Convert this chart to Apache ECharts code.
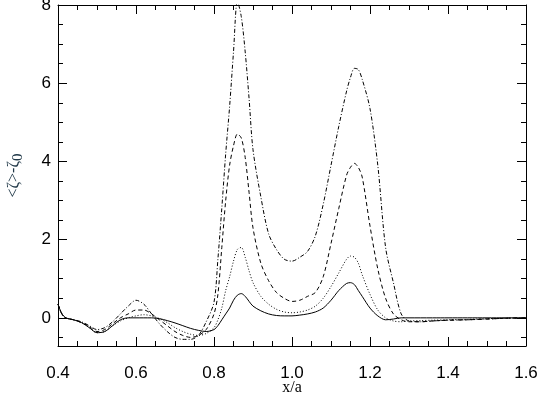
<!DOCTYPE html>
<html>
<head>
<meta charset="utf-8">
<script src="https://cdn.jsdelivr.net/npm/echarts@6/dist/echarts.min.js"></script>
<style>
  html,body{margin:0;padding:0;background:#fff;}
  #chart{width:538px;height:396px;}
</style>
</head>
<body>
<div id="chart"></div>
<script>
/* x/a positions shared by all curves */
const xs = [0.40,0.41,0.42,0.44,0.46,0.48,0.50,0.52,0.54,0.56,0.58,0.60,0.62,0.64,0.66,0.68,0.70,0.72,0.74,0.76,0.78,
            0.80,0.81,0.82,0.83,0.84,0.85,0.86,0.87,0.88,0.89,0.90,0.92,0.94,0.96,0.98,1.00,1.02,1.04,1.06,1.08,1.10,
            1.12,1.14,1.15,1.16,1.17,1.18,1.20,1.22,1.24,1.26,1.28,1.30,1.33,1.36,1.40,1.45,1.50,1.55,1.60];

// highest curve (dash dot)
const zetaA = [0.35,0.1,0.0,-0.05,-0.1,-0.2,-0.3,-0.25,-0.1,0.1,0.3,0.45,0.35,0.1,-0.15,-0.35,-0.5,-0.55,-0.55,-0.45,-0.1,
               0.4,1.5,2.8,4.2,5.4,6.8,8.1,7.7,6.8,5.6,4.3,3.1,2.15,1.75,1.5,1.45,1.55,1.7,2.1,2.9,3.9,
               4.9,5.8,6.15,6.38,6.35,6.1,5.35,3.9,1.8,0.9,0.1,-0.08,-0.1,-0.08,-0.06,-0.05,-0.03,-0.01,0.0];
// second curve (dashed)
const zetaB = [0.35,0.1,0.0,-0.05,-0.12,-0.22,-0.35,-0.3,-0.15,0.0,0.1,0.2,0.2,0.1,-0.05,-0.2,-0.35,-0.45,-0.5,-0.45,-0.3,
               0.1,0.6,1.8,3.0,3.9,4.4,4.7,4.6,4.1,3.2,2.3,1.4,0.95,0.65,0.5,0.42,0.45,0.55,0.65,1.05,1.9,
               2.8,3.65,3.85,3.95,3.85,3.6,2.35,1.25,0.5,0.1,-0.05,-0.1,-0.1,-0.08,-0.06,-0.05,-0.03,-0.01,0.0];
// third curve (dotted)
const zetaC = [0.35,0.1,0.0,-0.05,-0.12,-0.25,-0.38,-0.35,-0.2,-0.08,0.0,0.05,0.08,0.05,-0.02,-0.12,-0.25,-0.35,-0.42,-0.45,-0.4,
               -0.25,-0.05,0.25,0.7,1.05,1.45,1.75,1.8,1.55,1.2,0.9,0.55,0.35,0.22,0.15,0.13,0.15,0.2,0.3,0.5,0.8,
               1.15,1.5,1.58,1.55,1.4,1.1,0.6,0.2,0.0,-0.08,-0.1,-0.08,-0.07,-0.06,-0.05,-0.04,-0.02,-0.01,0.0];
// lowest curve (solid)
const zetaD = [0.35,0.1,0.0,-0.05,-0.12,-0.25,-0.38,-0.35,-0.2,-0.05,0.0,0.0,0.0,0.0,-0.02,-0.07,-0.13,-0.2,-0.27,-0.32,-0.35,
               -0.3,-0.2,-0.05,0.1,0.25,0.45,0.58,0.62,0.55,0.42,0.3,0.18,0.1,0.06,0.05,0.05,0.07,0.1,0.15,0.25,0.45,
               0.7,0.88,0.9,0.85,0.7,0.55,0.25,0.05,-0.05,-0.03,0.0,0.0,0.0,0.0,0.0,0.0,0.0,0.0,0.0];

const yMajor = [0,2,4,6,8];
const yMinor = [-0.5,0.5,1,1.5,2.5,3,3.5,4.5,5,5.5,6.5,7,7.5];
const yMin = -0.72, yMax = 8;

const chart = echarts.init(document.getElementById("chart"));

const pair = arr => xs.map((x,i)=>[x,arr[i]]);

const lineOf = (arr,type)=>({
	type:"line",
	data:pair(arr),
	symbol:"none",
	smooth:0.3,
	lineStyle:{color:"#000",width:1,type:type},
	z:3
});

const xCommon = {
	type:"value",min:0.4,max:1.6,interval:0.2,
	axisTick:{show:true,inside:true,length:9,lineStyle:{color:"#000",width:1}},
	minorTick:{show:true,splitNumber:4,length:5,lineStyle:{color:"#000",width:1}},
	splitLine:{show:false}
};

const yBase = {type:"value",min:yMin,max:yMax,splitLine:{show:false}};

chart.setOption({
	animation:false,
	backgroundColor:"#fff",
	// wide outer bounds so the frame keeps its place
	grid:{left:58,right:12,top:5,bottom:50,containLabel:false,
		outerBounds:{left:-40,top:-40,right:-40,bottom:-40}},
	xAxis:[
		// bottom x axis sits on the zero of a hidden y axis whose zero is the frame bottom
		Object.assign({},xCommon,{
			position:"bottom",
			axisLine:{show:true,onZero:true,onZeroAxisIndex:4,lineStyle:{color:"#000",width:1}},
			name:"x/a",nameLocation:"middle",nameGap:34,nameMoveOverlap:false,
			nameTextStyle:{fontFamily:"Liberation Serif",fontSize:16,color:"#000"},
			axisLabel:{fontFamily:"Liberation Sans",fontSize:17,color:"#000",margin:19,
				formatter:v=>v.toFixed(1)}
		}),
		// top x axis sits on the zero of a hidden y axis whose zero is the frame top
		Object.assign({},xCommon,{
			position:"top",
			axisLine:{show:true,onZero:true,onZeroAxisIndex:5,lineStyle:{color:"#000",width:1}},
			axisLabel:{show:false}
		})
	],
	yAxis:[
		Object.assign({},yBase,{
			position:"left",
			name:"<ζ>-ζ{s|0}",nameLocation:"middle",nameGap:36,nameRotate:90,
			nameTextStyle:{fontFamily:"Liberation Serif",fontSize:16,color:"#203848",
				rich:{s:{fontFamily:"Liberation Serif",fontSize:15,color:"#203848",verticalAlign:"bottom",padding:[0,0,-4,0]}}},
			axisLine:{show:true,onZero:false,lineStyle:{color:"#000"}},
			axisTick:{show:true,inside:true,length:9,customValues:yMajor,lineStyle:{color:"#000"}},
			axisLabel:{customValues:yMajor,fontFamily:"Liberation Sans",fontSize:17,color:"#000",margin:7}
		}),
		Object.assign({},yBase,{
			position:"left",
			axisLine:{show:false,onZero:false},
			axisTick:{show:true,inside:true,length:5,customValues:yMinor,lineStyle:{color:"#000"}},
			axisLabel:{show:false}
		}),
		Object.assign({},yBase,{
			position:"right",
			axisLine:{show:true,onZero:false,lineStyle:{color:"#000"}},
			axisTick:{show:true,inside:true,length:9,customValues:yMajor,lineStyle:{color:"#000"}},
			axisLabel:{show:false}
		}),
		Object.assign({},yBase,{
			position:"right",
			axisLine:{show:false,onZero:false},
			axisTick:{show:true,inside:true,length:5,customValues:yMinor,lineStyle:{color:"#000"}},
			axisLabel:{show:false}
		}),
		{type:"value",min:0,max:yMax-yMin,show:false},
		{type:"value",min:yMin-yMax,max:0,show:false}
	],
	series:[
		lineOf(zetaA,[4,2,1,2]),
		lineOf(zetaB,[4,3]),
		lineOf(zetaC,[1,2]),
		lineOf(zetaD,"solid")
	]
});
</script>
</body>
</html>
